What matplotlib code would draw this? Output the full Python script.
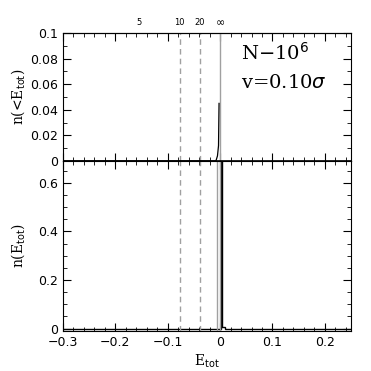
import numpy as np
import matplotlib
matplotlib.use('Agg')
import matplotlib.pyplot as plt
from matplotlib.ticker import MultipleLocator

# cumulative distribution n(<E_tot)
e_cum = [-0.30, -0.008, -0.005, -0.003, -0.002]
n_cum = [0.0, 0.0, 0.004, 0.012, 0.045]

# differential distribution n(E_tot) (bin edges / values)
e_edges = [-0.30, 0.002, 0.004, 0.010, 0.25]
n_hist = [0.0, 0.95, 0.008, 0.0]

# reference energies for n = 5, 10, 20, inf
n_ref = ['5', '10', '20', r'$\infty$']
e_ref = [-0.154, -0.077, -0.0385, -0.001]
e_dashed = [-0.077, -0.0385]
e_gray_spike = -0.005

fig = plt.figure(figsize=(3.71, 3.71), dpi=100)
left, right = 63 / 371, 351 / 371
y_top, y_mid, y_bot = 1 - 33 / 371, 1 - 161 / 371, 1 - 331 / 371
ax1 = fig.add_axes([left, y_mid, right - left, y_top - y_mid])
ax2 = fig.add_axes([left, y_bot, right - left, y_mid - y_bot], sharex=ax1)

gray = '#a0a0a0'
for ax in (ax1, ax2):
    for e in e_dashed:
        ax.axvline(e, color=gray, ls=(0, (4, 3)), lw=1.0)
    ax.axvline(e_ref[-1], color=gray, lw=1.0)
    ax.tick_params(which='both', direction='in', top=True, right=True, labelsize=9)
    ax.tick_params(which='major', length=6)
    ax.tick_params(which='minor', length=3)
    ax.xaxis.set_major_locator(MultipleLocator(0.1))
    ax.xaxis.set_minor_locator(MultipleLocator(0.02))
    for s in ax.spines.values():
        s.set_linewidth(0.8)

ax2.axvline(e_gray_spike, color=gray, lw=1.0)

ax1.plot(e_cum, n_cum, color='k', lw=0.9)
ax1.axhline(0, color='k', lw=1.2)
ax1.set_xlim(-0.3, 0.25)
ax1.set_ylim(0, 0.1)
ax1.yaxis.set_major_locator(MultipleLocator(0.02))
ax1.yaxis.set_minor_locator(MultipleLocator(0.01))
ax1.set_yticks([0, 0.02, 0.04, 0.06, 0.08, 0.1])
ax1.set_yticklabels(['0', '0.02', '0.04', '0.06', '0.08', '0.1'])
ax1.tick_params(labelbottom=False)
ax1.set_ylabel(r'n(<E$_{\rm tot}$)', family='serif', fontsize=10, labelpad=2)
ax1.text(0.04, 0.079, r'N$-$10$^6$', family='serif', fontsize=14)
ax1.text(0.04, 0.057, r'v=0.10$\sigma$', family='serif', fontsize=14)

ax_top = ax1.secondary_xaxis('top')
ax_top.set_xticks(e_ref)
ax_top.set_xticklabels(n_ref, fontsize=6)
ax_top.get_xticklabels()[-1].set_fontsize(8)
ax_top.tick_params(length=0, pad=4)

ax2.stairs(n_hist, e_edges, color='k', lw=1.0)
ax2.set_ylim(-0.01, 0.69)
ax2.yaxis.set_major_locator(MultipleLocator(0.2))
ax2.yaxis.set_minor_locator(MultipleLocator(0.05))
ax2.set_yticks([0, 0.2, 0.4, 0.6])
ax2.set_yticklabels(['0', '0.2', '0.4', '0.6'])
ax2.set_xticks([-0.3, -0.2, -0.1, 0, 0.1, 0.2])
ax2.set_xticklabels(['\u22120.3', '\u22120.2', '\u22120.1', '0', '0.1', '0.2'])
ax2.set_xlabel(r'E$_{\rm tot}$', family='serif', fontsize=10, labelpad=3)
ax2.set_ylabel(r'n(E$_{\rm tot}$)', family='serif', fontsize=10, labelpad=8)

fig.savefig('out.png', dpi=100)
